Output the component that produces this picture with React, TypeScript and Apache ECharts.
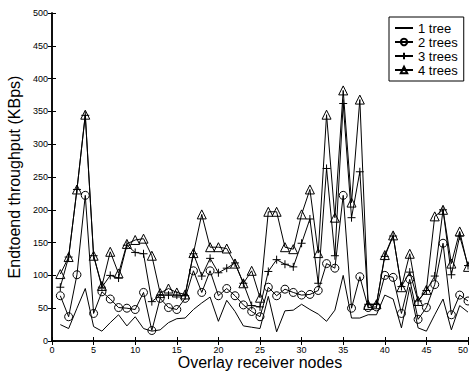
import React, { useEffect, useRef } from "react";
import * as echarts from "echarts";

const nodes = Array.from({ length: 50 }, (_, i) => i + 1);
const oneTree = [25, 19, 50, 80, 22, 15, 28, 40, 23, 37, 19, 15, 17, 28, 34, 35, 48, 58, 67, 30, 62, 45, 23, 21, 19, 68, 14, 46, 47, 56, 48, 41, 30, 47, 100, 35, 35, 40, 40, 70, 64, 20, 82, 20, 15, 40, 64, 17, 54, 44];
const twoTrees = [69, 37, 101, 222, 42, 75, 64, 51, 50, 48, 74, 16, 65, 51, 48, 65, 107, 74, 107, 69, 80, 69, 55, 45, 37, 82, 69, 79, 74, 70, 71, 77, 118, 111, 222, 50, 98, 51, 52, 100, 97, 42, 94, 33, 51, 86, 149, 40, 70, 61];
const threeTrees = [82, 128, 231, 344, 130, 82, 100, 96, 146, 135, 133, 60, 70, 70, 70, 69, 133, 99, 126, 104, 111, 119, 88, 54, 52, 106, 124, 117, 113, 149, 186, 88, 263, 130, 362, 188, 258, 56, 56, 129, 160, 83, 105, 61, 77, 99, 200, 101, 160, 115];
const fourTrees = [102, 128, 231, 345, 130, 84, 136, 103, 148, 154, 156, 130, 73, 80, 74, 71, 134, 193, 143, 143, 141, 118, 88, 107, 66, 197, 197, 143, 140, 193, 231, 134, 345, 188, 382, 211, 368, 55, 56, 131, 161, 82, 133, 61, 78, 190, 200, 118, 167, 113];
const seriesNames = ["1 tree", "2 trees", "3 trees", "4 trees"];
const xTitle = "Overlay receiver nodes";
const yTitle = "Endtoend throughput (KBps)";

const FONT = "'Liberation Sans', Arial, sans-serif";

export default function App() {
  const ref = useRef<HTMLDivElement>(null);
  useEffect(() => {
    if (!ref.current) return;
    const chart = echarts.init(ref.current, undefined, { renderer: "svg" });
    const pair = (arr: number[]) => arr.map((v, i) => [nodes[i], v]);
    const lineBase = (name: string, data: number[], symbol: string, size: number) => ({
      name,
      type: "line",
      data: pair(data),
      symbol,
      symbolSize: size,
      showSymbol: symbol !== "none",
      lineStyle: { color: "#000", width: 1 },
      itemStyle: { color: "rgba(255,255,255,0)", borderColor: "#000", borderWidth: 1 },
      emphasis: { disabled: true },
      xAxisIndex: 0,
      yAxisIndex: 0,
    });
    const axisCommon = {
      axisLine: { show: true, lineStyle: { color: "#000", width: 1.5 } },
      axisTick: { show: true, inside: true, length: 4, lineStyle: { color: "#000", width: 1 } },
      splitLine: { show: false },
    };
    chart.setOption({
      animation: false,
      textStyle: { fontFamily: FONT },
      grid: { left: 52, right: 1, top: 13, bottom: 31, containLabel: false, outerBoundsMode: "none" },
      legend: {
        orient: "vertical",
        left: 389,
        top: 17,
        data: [
          {
            name: seriesNames[0],
            itemStyle: { color: "rgba(0,0,0,0)", borderColor: "rgba(0,0,0,0)", borderWidth: 0 },
          },
          seriesNames[1],
          seriesNames[2],
          seriesNames[3],
        ],
        itemWidth: 18,
        itemHeight: 8,
        itemGap: 0,
        padding: [4, 6, 4, 5],
        borderColor: "#000",
        borderWidth: 1,
        backgroundColor: "#fff",
        textStyle: { fontSize: 13, color: "#000", fontFamily: FONT, lineHeight: 14 },
      },
      xAxis: [
        {
          type: "value",
          min: 0,
          max: 50,
          interval: 5,
          position: "bottom",
          ...axisCommon,
          axisLabel: { fontSize: 9, color: "#000", margin: 4, alignMaxLabel: "right" },
          name: xTitle,
          nameLocation: "middle",
          nameGap: 21,
          nameMoveOverlap: false,
          nameTextStyle: { fontSize: 16, color: "#000", fontFamily: FONT, verticalAlign: "middle", lineHeight: 16 },
        },
        {
          type: "value",
          min: 0,
          max: 50,
          interval: 5,
          position: "top",
          ...axisCommon,
          axisLabel: { show: false },
        },
      ],
      yAxis: [
        {
          type: "value",
          min: 0,
          max: 500,
          interval: 50,
          position: "left",
          ...axisCommon,
          axisLabel: { fontSize: 9, color: "#000", margin: 4 },
          name: yTitle,
          nameLocation: "middle",
          nameGap: 20,
          nameRotate: 90,
          nameTextStyle: { fontSize: 16, color: "#000", fontFamily: FONT },
        },
        {
          type: "value",
          min: 0,
          max: 500,
          interval: 50,
          position: "right",
          ...axisCommon,
          axisLabel: { show: false },
        },
      ],
      series: [
        lineBase(seriesNames[0], oneTree, "none", 0),
        lineBase(seriesNames[1], twoTrees, "circle", 8),
        lineBase(seriesNames[2], threeTrees, "path://M5 0 L5 10 M0 5 L10 5", 8),
        lineBase(seriesNames[3], fourTrees, "triangle", 9),
      ],
    });
    return () => chart.dispose();
  }, []);
  return (
    <div
      ref={ref}
      style={{ position: "fixed", left: 0, top: 0, width: 469, height: 372, background: "#fff" }}
    />
  );
}
